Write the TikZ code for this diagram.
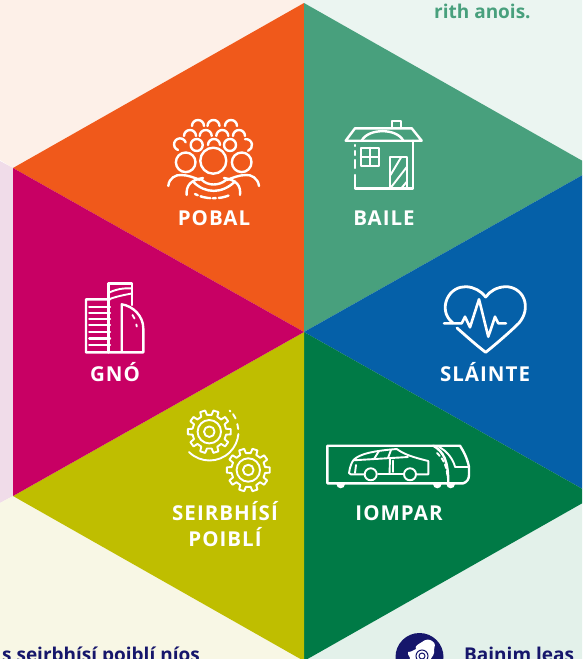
\documentclass[tikz,border=0pt]{standalone}
\usepackage{fontspec}
\setmainfont{Open Sans}
\newfontfamily\lab[LetterSpace=5,BoldFont={Open Sans Bold}]{Open Sans}
\definecolor{corange}{HTML}{F0591B}
\definecolor{cteal}{HTML}{48A07D}
\definecolor{cblue}{HTML}{0560A8}
\definecolor{cgreen}{HTML}{007A46}
\definecolor{colive}{HTML}{BFBE00}
\definecolor{cmag}{HTML}{C80064}
\definecolor{cnavy}{HTML}{16166B}
\tikzset{
  ic/.style={draw=white,line width=2.4pt,line join=round,line cap=round,fill=none},
  thin ic/.style={draw=white,line width=1.9pt,line join=round,line cap=round,fill=none},
  lbl/.style={text=white,font=\lab\fontsize{20.5}{26}\selectfont\bfseries,inner sep=0pt,anchor=base},
  para/.style={font=\fontsize{19}{23}\selectfont\bfseries,inner sep=0pt,anchor=base west}
}
\newcommand{\gearicon}[2]{%
  \draw[thin ic] (#1,#2) circle (11.7) (#1,#2) circle (5.3);
  \draw[thin ic] ([shift={(#1,#2)}]-10:17)
    \foreach \a in {0,36,...,324} {
      -- ([shift={(#1,#2)}]\a-10:17)
      -- ([shift={(#1,#2)}]\a-7:21.6)
      -- ([shift={(#1,#2)}]\a+7:21.6)
      -- ([shift={(#1,#2)}]\a+10:17)
    } -- cycle;
}
\begin{document}
\begin{tikzpicture}[x=1pt,y=-1pt]
\useasboundingbox (0,0) rectangle (582,659);
\clip (0,0) rectangle (582,659);
% background panels
\fill[fill=white] (0,0) rectangle (582,659);
\fill[fill={rgb,255:red,253;green,240;blue,232}] (0,0) -- (304,0) -- (304,3) -- (13,168) -- (0,160) -- cycle;
\fill[fill={rgb,255:red,235;green,245;blue,241}] (304,0) -- (582,0) -- (582,170) -- (304,3) -- cycle;
\fill[fill={rgb,255:red,240;green,220;blue,233}] (0,161) -- (13,168) -- (13,496) -- (0,503) -- cycle;
\fill[fill={rgb,255:red,248;green,247;blue,229}] (0,503) -- (13,496) -- (304,661) -- (0,661) -- cycle;
\fill[fill={rgb,255:red,227;green,241;blue,234}] (582,503) -- (304,661) -- (582,661) -- cycle;
% hexagon
\coordinate (hc) at (304,332);
\coordinate (ht) at (304,3);
\coordinate (htr) at (595,168);
\coordinate (hbr) at (595,496);
\coordinate (hb) at (304,661);
\coordinate (hbl) at (13,496);
\coordinate (htl) at (13,168);
\fill[corange] (hc) -- (htl) -- (ht) -- cycle;
\fill[cteal] (hc) -- (ht) -- (htr) -- cycle;
\fill[cblue] (hc) -- (htr) -- (hbr) -- cycle;
\fill[cgreen] (hc) -- (hbr) -- (hb) -- cycle;
\fill[colive] (hc) -- (hb) -- (hbl) -- cycle;
\fill[cmag] (hc) -- (hbl) -- (htl) -- cycle;
% labels
\node[lbl] (pobal) at (214,225) {POBAL};
\node[lbl] (baile) at (384,225) {BAILE};
\node[lbl] (gno) at (115,381) {GNÓ};
\node[lbl] (slainte) at (485,381) {SLÁINTE};
\node[lbl] (seirbhisi) at (225,520) {SEIRBHÍSÍ};
\node[lbl] (poibli) at (225,546) {POIBLÍ};
\node[lbl] (iompar) at (399,520) {IOMPAR};
% clipped text
\node[para,text=cteal] (topnote) at (434,18) {rith anois.};
\node[para,text=cnavy] (leftnote) at (2,661) {s seirbhísí poiblí níos};
\node[para,text=cnavy] (rightnote) at (464,661) {Bainim leas};
% logo
\fill[cnavy] (419.5,657) circle (24);
\fill[white] (422,642) .. controls (425,639) and (430,639) .. (432,641) .. controls (436,643) and (435,647) .. (434,650) .. controls (435,654) and (432,657) .. (430,660) -- (410,660) .. controls (411,657) and (407,655) .. (408,652) .. controls (412,652) and (413,650) .. (416,649) .. controls (414,646) and (419,644) .. (422,642) -- cycle;
\draw[cnavy,line width=1pt] (422,656) circle (6) (422,656) circle (3);
% people
\foreach \x in {198,213.5,231} \draw[ic] (\x-6,126) arc (180:360:6);
\foreach \x in {190,205.7,222.3,239} \draw[ic] (\x-6,136) arc (180:360:6);
\draw[ic] (178,150) arc (110:340:6);
\draw[ic] (196.7,145) circle (6) (230,145) circle (6);
\draw[ic] (208,145) arc (180:360:6);
\draw[ic] (245,139.2) arc (-100:70:6);
\draw[ic] (185.7,162.3) circle (9.8) (241.7,162.3) circle (9.8) (213.3,160.7) circle (13);
\draw[ic] (168.3,186) .. controls (169,178) and (176,174.5) .. (181,175) .. controls (188,175) and (195,178) .. (200,180);
\draw[ic] (259,186) .. controls (258,178) and (251,174.5) .. (246,175) .. controls (239,175) and (232,178) .. (227,180);
\draw[ic] (186.7,195) .. controls (186,186) and (190,180) .. (203,178);
\draw[ic] (240,195) .. controls (241,186) and (237,180) .. (224,178);
\draw[ic] (193,181.5) .. controls (205,194) and (222,194) .. (235,181.5);
\draw[ic] (202,180) .. controls (208,186) and (219,186) .. (226,180);
\draw[ic,dash pattern=on 3pt off 3pt on 10pt off 2.5pt] (195,194) .. controls (205,199.5) and (220,199.5) .. (230,195);
% house
\draw[ic] (345.7,140.7) -- (355,128.3) -- (411.7,128.3) -- (421.7,140.7) -- cycle;
\draw[ic] (361.7,140.7) .. controls (368,128) and (397,128) .. (403.3,140.7);
\draw[ic] (391.7,128.3) -- (391.7,120.7) -- (401,120.7) -- (401,128.3);
\draw[ic] (412.7,140.7) -- (412.7,188.3) -- (355,188.3) -- (355,175);
\draw[ic] (355,145) -- (355,146) (355,151) -- (355,155) (355,160) -- (355,168);
\draw[thin ic] (360.7,147.7) rectangle (379,165.7) (369.8,147.7) -- (369.8,165.7) (360.7,156.7) -- (379,156.7);
\draw[thin ic] (390,188.3) -- (390,156.7) -- (407.3,156.7) -- (407.3,188.3);
\draw[thin ic] (390.5,175) -- (401,157.5) (390.5,188) -- (407,166.7) (401.5,188) -- (407,181.5);
% building
\draw[ic] (110,299.3) -- (86,299.3) -- (86,352.3) -- (143.3,352.3) -- (143.3,328.3) .. controls (143.3,316) and (133,306) .. (121.7,304.3) -- (121.7,352.3);
\draw[ic] (89.3,306.7) -- (110,306.7) (89.3,312.7) -- (110,312.7) (89.3,319) -- (110,319) (89.3,325) -- (110,325) (89.3,331.7) -- (110,331.7) (89.3,338.3) -- (110,338.3) (89.3,345) -- (110,345);
\draw[ic] (108.3,352.3) -- (108.3,283.3) -- (131.7,283.3) -- (131.7,305);
\draw[thin ic] (108.3,293) .. controls (116,289) and (124,288) .. (131.7,288.3);
\draw[thin ic] (108.3,299.5) .. controls (116,296.5) and (124,295) .. (131.7,293.5);
\draw[thin ic] (132.5,315) -- (134.5,318.5) (136.3,324.5) -- (136.8,326.5);
% heart
\draw[ic,line width=2.8pt] (453,323) .. controls (444,316) and (444,306) .. (447,299) .. controls (451,290) and (459,286.5) .. (466,286.7) .. controls (474,287) and (481,291) .. (485.7,297) .. controls (490,291) and (497,287) .. (505.5,286.7) .. controls (513,286.5) and (521,291) .. (524,299) .. controls (527,307) and (525,316) .. (519,323) .. controls (510,332) and (496,344) .. (485.7,352.3) .. controls (476,345) and (465,335) .. (457,328);
\draw[ic,line width=2.6pt] (444,323.3) -- (461.7,323.3) -- (465,316.7) -- (470,327.3) -- (479,299.3) -- (488.3,336.7) -- (495,316.7) -- (498.3,323.3) -- (506,323.3);
% gears
\gearicon{209.3}{431.7}
\gearicon{248.3}{470}
\draw[thin ic] (189,452) arc (135:5:29);
\draw[thin ic] (238.2,429) arc (-5:-15:29) (235.6,418.5) arc (-25:-35:29);
\draw[thin ic] (229.5,410.5) -- (230.5,411.5);
% bus
\draw[ic] (433.3,445.7) -- (327.3,445.7) -- (327.3,483.3) -- (463.3,483.3) .. controls (467,482) and (469,479) .. (469,475) -- (469,466.7) .. controls (467,458) and (464,452) .. (460,445.7) -- cycle;
\draw[ic] (433.3,445.7) .. controls (444,452) and (448.3,461) .. (448.3,483.3);
\draw[thin ic] (455,466.7) -- (469,466.7);
\draw[thin ic] (439,447) .. controls (447,451) and (453,459) .. (455,466.7);
\draw[thin ic,dash pattern=on 4pt off 3pt] (437,453) .. controls (441,457) and (447,463) .. (447.5,478);
\fill[white] (336.4,484) -- (345,484) arc (0:180:4.3) -- cycle;
\fill[white] (433,484) -- (441.6,484) arc (0:180:4.3) -- cycle;
\fill[white] (446.4,484) -- (455,484) arc (0:180:4.3) -- cycle;
\draw[thin ic] (364,474.3) -- (350.7,474.3) -- (349,473) .. controls (350,466) and (352,461.5) .. (354,459.5) .. controls (360,454) and (372,451) .. (396.7,449) .. controls (404,454) and (410,456.5) .. (428.3,461) -- (428.3,474.3) -- (417,474.3);
\draw[thin ic] (378,474.3) -- (403,474.3);
\draw[thin ic] (370.7,474.3) circle (6) (410,474.3) circle (6);
\draw[thin ic] (353.3,460.3) -- (408,457);
\draw[thin ic] (374,459) -- (379,451) (388,458) -- (391,450) (390,458) -- (389.5,474);
\draw[thin ic] (356,465) -- (355,473) (393,460.5) -- (393,472);
\end{tikzpicture}
\end{document}
